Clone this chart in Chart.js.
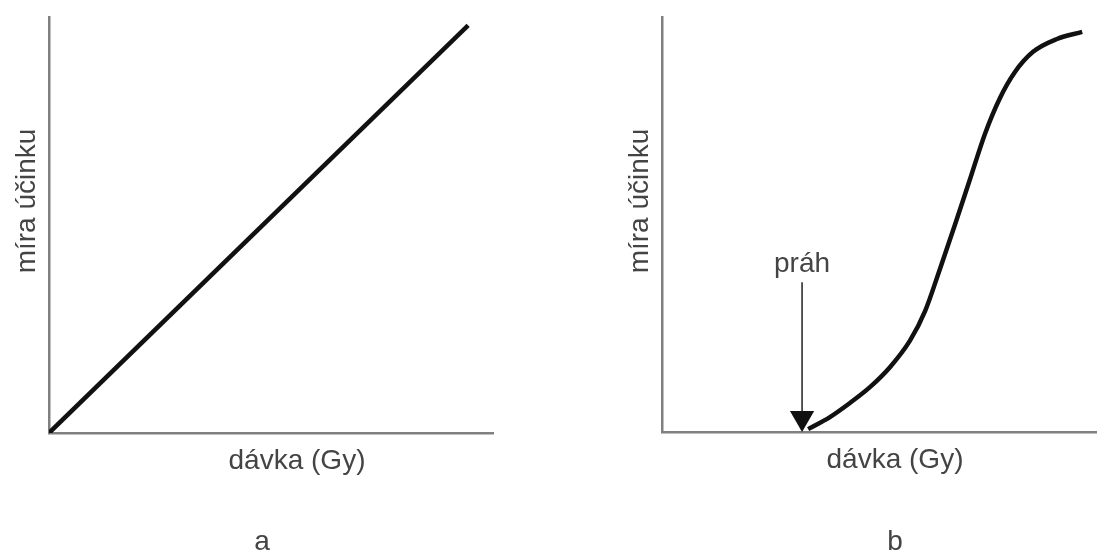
<!DOCTYPE html>
<html>
<head>
<meta charset="utf-8">
<script src="https://cdn.jsdelivr.net/npm/chart.js@4"></script>
<style>
    body { margin: 0; background: #fff; }
    #painelA { position: absolute; left: 0; top: 0; }
    #painelB { position: absolute; left: 548px; top: 0; }
</style>
</head>
<body>
<canvas id="painelA" width="548" height="554"></canvas>
<canvas id="painelB" width="549" height="554"></canvas>
<script>
// dados (unidades arbitrarias 0..10)
const davkaA = [0, 9.44];
const ucinekA = [0, 9.8];

const davkaB = [3.36, 3.86, 4.32, 4.78, 5.24, 5.70, 6.05, 6.39, 6.74, 7.08, 7.43, 7.77, 8.11, 8.53, 9.08, 9.66];
const ucinekB = [0.07, 0.36, 0.70, 1.08, 1.56, 2.20, 2.92, 3.93, 5.01, 6.09, 7.20, 8.05, 8.67, 9.16, 9.47, 9.64];

// seta do limiar (prah)
const prahX = [3.22, 3.22];
const prahY = [3.61, 0.34];

const textos = {
    eixoX: 'dávka (Gy)',
    eixoY: 'míra účinku',
    prah: 'práh'
};

const fonte = '28px "Liberation Sans", Arial, sans-serif';
const corTexto = '#444';

function pontos(xs, ys) {
    return xs.map((x, i) => ({ x: x, y: ys[i] }));
}

// escreve os rotulos em volta da area do grafico
const rotulos = {
    id: 'rotulos',
    afterDraw(chart, args, opts) {
        const ctx = chart.ctx;
        const a = chart.chartArea;
        ctx.save();
        ctx.fillStyle = corTexto;
        ctx.font = fonte;
        ctx.textAlign = 'center';
        ctx.textBaseline = 'alphabetic';

        ctx.fillText(textos.eixoX, a.left + opts.xDesl, a.bottom + 36);
        ctx.fillText(opts.painel, a.left + opts.letraDesl, 550);

        ctx.save();
        ctx.translate(a.left - 14, a.top + 184);
        ctx.rotate(-Math.PI / 2);
        ctx.fillText(textos.eixoY, 0, 0);
        ctx.restore();

        if (opts.prah) {
            const px = chart.scales.x.getPixelForValue(prahX[0]);
            const py = chart.scales.y.getPixelForValue(prahY[0]);
            ctx.fillText(textos.prah, px, py - 10);
        }
        ctx.restore();
    }
};

function semPadding(s) {
    s.paddingLeft = 0;
    s.paddingRight = 0;
    s.paddingTop = 0;
    s.paddingBottom = 0;
}

function escalas() {
    const base = {
        type: 'linear',
        min: 0,
        max: 10,
        ticks: { display: false },
        grid: { display: false, drawTicks: false },
        border: { display: true, color: '#808080', width: 2.5 }
    };
    return {
        x: Object.assign({}, base, { afterFit: s => { s.height = 0; semPadding(s); } }),
        y: Object.assign({}, base, { afterFit: s => { s.width = 0; semPadding(s); } })
    };
}

const configA = {
    type: 'line',
    data: {
        datasets: [{
            data: pontos(davkaA, ucinekA),
            borderColor: '#111',
            borderWidth: 4.5,
            pointRadius: 0,
            fill: false
        }]
    },
    options: {
        responsive: false,
        animation: false,
        layout: { autoPadding: false, padding: { left: 49, right: 55, top: 17, bottom: 121 } },
        scales: escalas(),
        plugins: {
            legend: { display: false },
            tooltip: { enabled: false },
            rotulos: { painel: 'a', xDesl: 248, letraDesl: 213, prah: false }
        }
    },
    plugins: [rotulos]
};

new Chart(document.getElementById('painelA'), configA);

const configB = {
    type: 'line',
    data: {
        datasets: [{
            data: pontos(davkaB, ucinekB),
            borderColor: '#111',
            borderWidth: 4.5,
            pointRadius: 0,
            cubicInterpolationMode: 'monotone',
            fill: false
        }, {
            data: pontos(prahX, prahY),
            borderColor: '#222',
            borderWidth: 1.5,
            pointRadius: [0, 14],
            pointStyle: 'triangle',
            rotation: 180,
            pointBackgroundColor: '#111',
            pointBorderColor: '#111',
            pointBorderWidth: 0,
            clip: false,
            fill: false
        }]
    },
    options: {
        responsive: false,
        animation: false,
        layout: { autoPadding: false, padding: { left: 114, right: 0, top: 17, bottom: 122 } },
        scales: escalas(),
        plugins: {
            legend: { display: false },
            tooltip: { enabled: false },
            rotulos: { painel: 'b', xDesl: 233, letraDesl: 233, prah: true }
        }
    },
    plugins: [rotulos]
};

new Chart(document.getElementById('painelB'), configB);
</script>
</body>
</html>
